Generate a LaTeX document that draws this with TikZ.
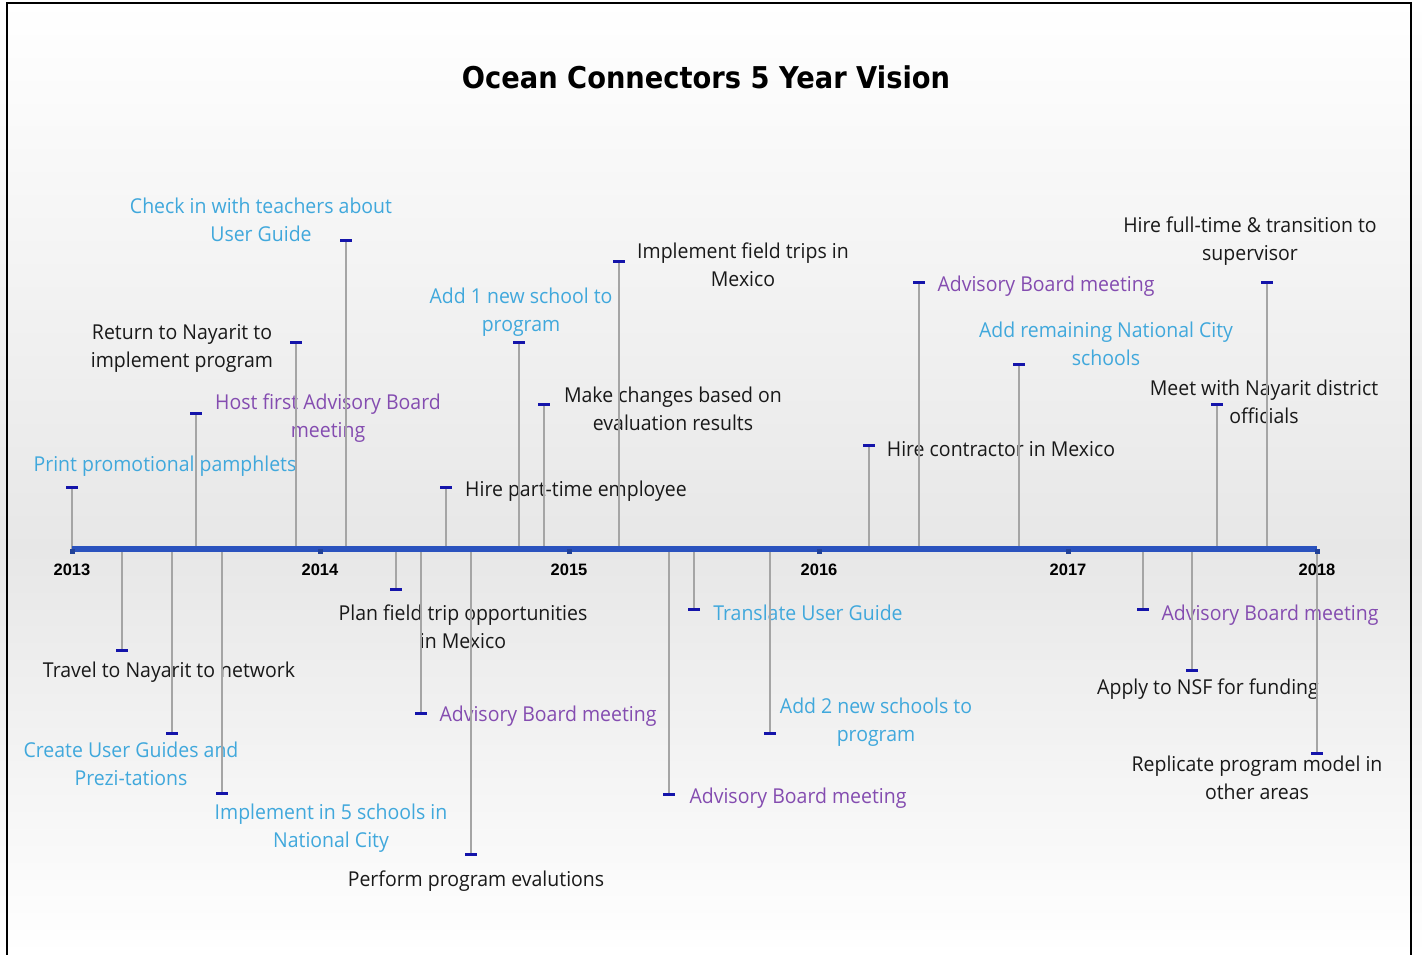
\documentclass[tikz,border=0pt]{standalone}
\usepackage{fontspec}
\setmainfont{Open Sans}[FakeStretch=0.95]
\newfontfamily\titlefont{DejaVu Sans}[FakeStretch=0.91]
\newfontfamily\yearfont{Liberation Sans}
\definecolor{axisblue}{RGB}{42,82,190}
\definecolor{tickblue}{RGB}{20,20,170}
\definecolor{stemgray}{RGB}{165,165,165}
\definecolor{evcyan}{RGB}{64,168,220}
\definecolor{evpurple}{RGB}{132,76,176}
\definecolor{evblack}{RGB}{25,25,25}
\definecolor{bgmid}{RGB}{231,231,231}
\tikzset{
  evlabel/.style={inner sep=0pt, align=center, yshift=-2pt, font=\fontsize{20.5}{28}\selectfont},
  stemline/.style={draw=stemgray, line width=1.2pt},
  tickmark/.style={draw=tickblue, line width=3pt},
  yearlabel/.style={inner sep=0pt, font=\yearfont\bfseries\fontsize{16.5}{18}\selectfont, text=black},
}
% one event: name, x, y of its tick, label x, label y, colour, text
\newcommand{\tlevent}[7]{%
  \coordinate (#1-a) at (#2,549);
  \coordinate (#1-t) at (#2,#3);
  \draw[stemline] (#1-a) -- (#1-t);
  \draw[tickmark] ([xshift=-6pt]#1-t) -- ([xshift=6pt]#1-t);
  \node[evlabel, text=#6] (#1) at (#4,#5) {#7};
}
\begin{document}
\begin{tikzpicture}[x=1pt, y=-1pt]
\useasboundingbox (0,0) rectangle (1422,955);
% background
\shade[top color=white, bottom color=bgmid] (0,0) rectangle (1422,550);
\shade[top color=bgmid, bottom color=white] (0,550) rectangle (1422,955);
\draw[black, line width=2pt] (7,970) -- (7,3) -- (1411,3) -- (1411,970);

% title
\node[inner sep=0pt, font=\titlefont\bfseries\fontsize{30}{34}\selectfont] (title) at (706,77) {Ocean Connectors 5 Year Vision};

% events above the axis
\tlevent{e01}{72}{487}{165}{464}{evcyan}{Print promotional pamphlets}
\tlevent{e02}{196}{413}{328}{416}{evpurple}{Host first Advisory Board\\meeting}
\tlevent{e03}{296}{342}{182}{346}{evblack}{Return to Nayarit to\\implement program}
\tlevent{e04}{346}{240}{261}{218}{evcyan}{Check in with teachers about\\User Guide}
\tlevent{e05}{446}{487}{576}{489}{evblack}{Hire part-time employee}
\tlevent{e06}{519}{342}{521}{310}{evcyan}{Add 1 new school to\\program}
\tlevent{e07}{544}{404}{673}{407}{evblack}{Make changes based on\\evaluation results}
\tlevent{e08}{619}{261}{743}{263}{evblack}{Implement field trips in\\Mexico}
\tlevent{e09}{869}{445}{1001}{447}{evblack}{Hire contractor in Mexico}
\tlevent{e10}{919}{282}{1046}{284}{evpurple}{Advisory Board meeting}
\tlevent{e11}{1019}{364}{1106}{342}{evcyan}{Add remaining National City\\schools}
\tlevent{e12}{1217}{404}{1264}{400}{evblack}{Meet with Nayarit district\\officials}
\tlevent{e13}{1267}{282}{1250}{239}{evblack}{Hire full-time \& transition to\\supervisor}

% events below the axis
\tlevent{e14}{122}{650}{169}{670}{evblack}{Travel to Nayarit to network}
\tlevent{e15}{172}{733}{131}{762}{evcyan}{Create User Guides and\\Prezi-tations}
\tlevent{e16}{222}{793}{331}{826}{evcyan}{Implement in 5 schools in\\National City}
\tlevent{e17}{396}{589}{463}{625}{evblack}{Plan field trip opportunities\\in Mexico}
\tlevent{e18}{421}{713}{548}{714}{evpurple}{Advisory Board meeting}
\tlevent{e19}{471}{854}{476}{879}{evblack}{Perform program evalutions}
\tlevent{e20}{669}{794}{798}{796}{evpurple}{Advisory Board meeting}
\tlevent{e21}{694}{609}{808}{611}{evcyan}{Translate User Guide}
\tlevent{e22}{770}{733}{876}{720}{evcyan}{Add 2 new schools to\\program}
\tlevent{e23}{1143}{609}{1270}{613}{evpurple}{Advisory Board meeting}
\tlevent{e24}{1192}{670}{1208}{687}{evblack}{Apply to NSF for funding}
\tlevent{e25}{1317}{753}{1257}{776}{evblack}{Replicate program model in\\other areas}

% axis
\coordinate (ax0) at (72,549);
\coordinate (ax1) at (1317,549);
\draw[axisblue, line width=6pt] (ax0) -- (ax1);
\foreach \yr/\xx in {2013/72, 2014/320, 2015/569, 2016/819, 2017/1068, 2018/1317} {
  \fill[axisblue!80!black] (\xx-2.5,549) rectangle (\xx+2.5,554);
  \node[yearlabel] (y\yr) at (\xx,570) {\yr};
}
\end{tikzpicture}
\end{document}
